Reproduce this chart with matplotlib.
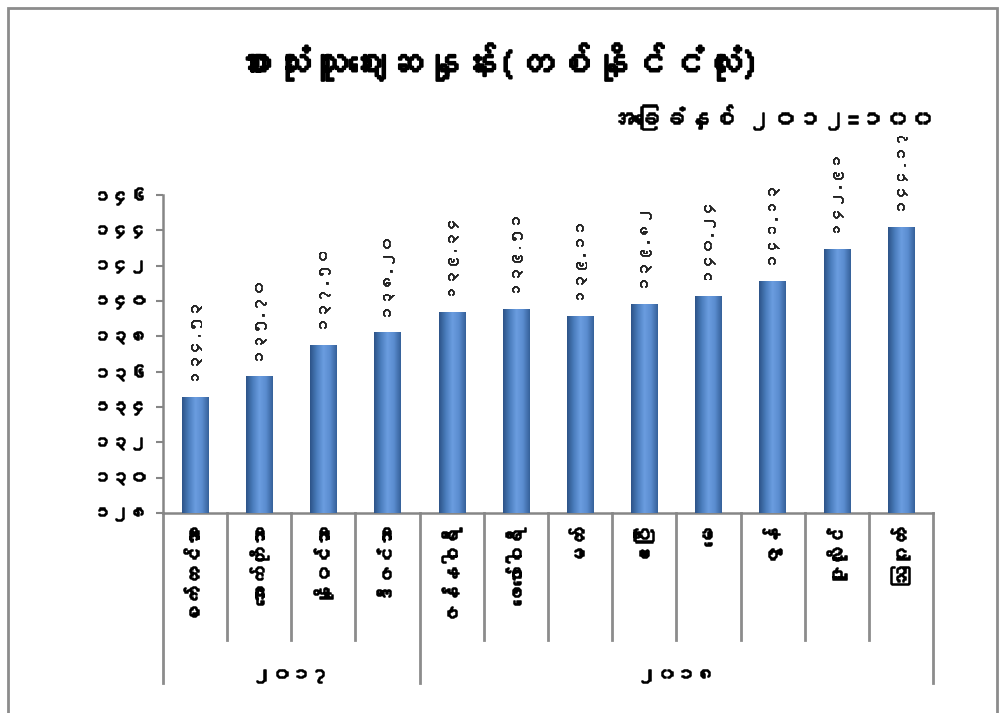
import matplotlib

matplotlib.use("Agg")
import matplotlib.patheffects as pe
import matplotlib.pyplot as plt
import numpy as np
from matplotlib import font_manager
from matplotlib.colors import LinearSegmentedColormap
from matplotlib.ft2font import FT2Font
from matplotlib.patches import Rectangle
from matplotlib.transforms import blended_transform_factory

# consumer price index, whole country (base year 2012 = 100)
title = "စားသုံးသူဈေးဆနှုန်း(တစ်နိုင်ငံလုံး)"
subtitle = "အခြေခံနှစ် ၂၀၁၂=၁၀၀"
months = [
    "စက်တင်ဘာ", "အောက်တိုဘာ", "နိုဝင်ဘာ", "ဒီဇင်ဘာ",
    "ဇန်နဝါရီ", "ဖေဖော်ဝါရီ", "မတ်", "ဧပြီ", "မေ", "ဇွန်", "ဇူလိုင်", "ဩဂုတ်",
]
years = ["၂၀၁၇", "၂၀၁၈"]
months_per_year = [4, 8]
cpi = [134.53, 135.70, 137.50, 138.20, 139.34, 139.51,
       139.11, 139.82, 140.24, 141.13, 142.91, 144.17]
y_ticks = [128, 130, 132, 134, 136, 138, 140, 142, 144, 146]

MM_DIGITS = str.maketrans("0123456789", "၀၁၂၃၄၅၆၇၈၉")


def to_myanmar(text: str) -> str:
    return text.translate(MM_DIGITS)


def _find_myanmar_font():
    for entry in font_manager.fontManager.ttflist:
        try:
            cmap = FT2Font(entry.fname).get_charmap()
        except Exception:
            continue
        if 0x1000 in cmap and 0x1041 in cmap:
            return entry.name
    return None


mm_font = _find_myanmar_font()
families = [mm_font, "DejaVu Sans"] if mm_font else ["DejaVu Sans"]
plt.rcParams["font.family"] = families

# fake a heavier weight, the Myanmar font has no bold face
bold = [pe.withStroke(linewidth=1.1, foreground="black")]
semi = [pe.withStroke(linewidth=0.6, foreground="#222222")]

fig = plt.figure(figsize=(10.03, 7.13), dpi=100)
fig.patch.set_facecolor("white")

# outer chart border
fig.patches.append(Rectangle((8 / 1003, -0.1), 989 / 1003, 1.1 - 8 / 713,
                             transform=fig.transFigure, fill=False,
                             edgecolor="#8c8c8c", linewidth=2))

ax = fig.add_axes([163 / 1003, 1 - 513 / 713, 770 / 1003, 318 / 713])
x = np.arange(len(months))
bar_width = 0.41

bars = ax.bar(x, cpi, width=bar_width, bottom=0, color="#4f81bd",
              edgecolor="none", zorder=2)

# cylinder-like shading on each bar
shade = LinearSegmentedColormap.from_list(
    "shade", ["#2d5488", "#4a7dbd", "#6b9de0", "#5a8ccf", "#36619a"])
grad = np.linspace(0, 1, 64).reshape(1, -1)
for rect in bars:
    x0 = rect.get_x()
    ax.imshow(grad, extent=[x0, x0 + rect.get_width(), 0, rect.get_height()],
              cmap=shade, aspect="auto", zorder=3, origin="lower")

ax.set_xlim(-0.5, len(months) - 0.5)
ax.set_ylim(y_ticks[0], y_ticks[-1])
ax.set_yticks(y_ticks)
ax.set_yticklabels([to_myanmar(str(t)) for t in y_ticks], fontsize=13)
for lbl in ax.get_yticklabels():
    lbl.set_path_effects(bold)
ax.tick_params(axis="y", length=5, width=1.5, color="#868686", pad=6)
ax.tick_params(axis="x", length=0, labelbottom=False)

for side in ("top", "right"):
    ax.spines[side].set_visible(False)
for side in ("left", "bottom"):
    ax.spines[side].set_color("#868686")
    ax.spines[side].set_linewidth(1.8)

# value labels above the bars
for xi, v in zip(x, cpi):
    ax.annotate(to_myanmar(f"{v:.2f}"), (xi, v), xytext=(0, 9),
                textcoords="offset points", rotation=90,
                ha="center", va="bottom", fontsize=11, color="#222222",
                path_effects=semi)

# two-level category axis below the plot
trans = blended_transform_factory(ax.transData, ax.transAxes)
bounds = np.arange(len(months) + 1) - 0.5
group_edges = np.concatenate([[0], np.cumsum(months_per_year)]) - 0.5
for b in bounds:
    depth = -0.535 if b in group_edges else -0.40
    ax.plot([b, b], [0, depth], transform=trans, color="#8c8c8c",
            linewidth=2, clip_on=False)

for xi, name in zip(x, months):
    ax.text(xi, -0.047, name, transform=trans, rotation=90, ha="center",
            va="top", fontsize=14, path_effects=bold)

for i, year in enumerate(years):
    centre = (group_edges[i] + group_edges[i + 1]) / 2
    ax.text(centre, -0.512, year, transform=trans, ha="center", va="center",
            fontsize=14, path_effects=bold)

fig.text(0.496, 0.913, title, ha="center", va="center", fontsize=27,
         path_effects=[pe.withStroke(linewidth=1.6, foreground="black")])
fig.text(0.932, 0.835, subtitle, ha="right", va="center", fontsize=18,
         path_effects=bold)

fig.savefig("out.png", dpi=100)
plt.close(fig)
